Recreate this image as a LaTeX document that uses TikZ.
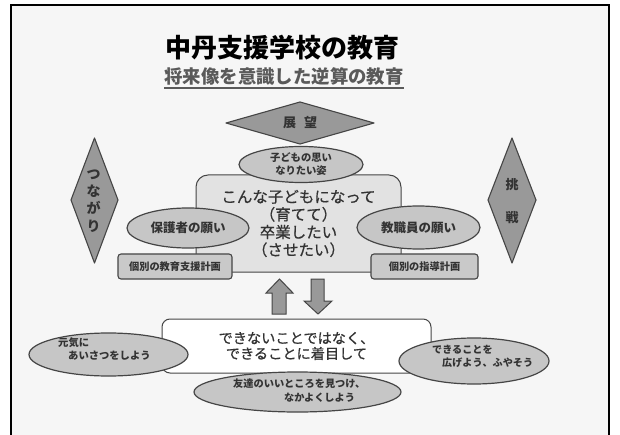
\documentclass[tikz,border=0pt]{standalone}
\usepackage{fontspec}
\setmainfont{Noto Sans CJK JP}
\usetikzlibrary{shapes.geometric,calc}
\definecolor{bg}{HTML}{F6F6F6}
\definecolor{dia}{HTML}{999999}
\definecolor{ell}{HTML}{C6C6C6}
\definecolor{boxc}{HTML}{E2E2E2}
\definecolor{rectc}{HTML}{C9C9C9}
\definecolor{edge}{HTML}{454545}
\definecolor{txt}{HTML}{333333}
\definecolor{subc}{HTML}{5A5A5A}
\newcommand{\fs}[2]{\fontsize{#1}{#2}\selectfont}
\begin{document}
\begin{tikzpicture}[x=1pt,y=-1pt,
  diam/.style={fill=dia,draw=edge,line width=1.1pt,line join=round},
  ell/.style={ellipse,fill=ell,draw=edge,line width=1.2pt,inner sep=0pt,text=txt,align=center},
  planbox/.style={rectangle,rounded corners=3pt,fill=rectc,draw=edge,line width=1.1pt,inner sep=0pt,text=txt,font=\fs{10.2}{12}\bfseries},
  arrowc/.style={fill=dia,draw=edge,line width=1pt,line join=miter},
  lbl/.style={inner sep=0pt,text=txt}]
\useasboundingbox (0,0) rectangle (620,435);
\fill[white] (0,0) rectangle (620,435);
\fill[bg] (11,5) rectangle (609,435);
\draw[line width=2pt] (11,437) -- (11,5) -- (609,5) -- (609,437);

% title
\node[inner sep=0pt,font=\fs{26}{30}\bfseries] (title) at (282,48) {中丹支援学校の教育};
\node[inner sep=0pt,font=\fs{18.4}{22}\bfseries,text=subc] (subtitle) at (284,76) {将来像を意識した逆算の教育};
\draw[subc,line width=1.5pt] ($(subtitle.south west)+(0,3)$) -- ($(subtitle.south east)+(0,3)$);

% top diamond
\draw[diam] (226,123) -- (300,102) -- (374,123) -- (300,144) -- cycle;
\node[lbl,font=\fs{13}{15}\bfseries] (tenbo) at (300,123) {展\hspace{8pt}望};

% side diamonds
\draw[diam] (94.5,138) -- (118,200) -- (94.5,263) -- (71,200) -- cycle;
\node[lbl,align=center,font=\fs{14}{17.3}\bfseries] (tsunagari) at (93.5,201) {つ\\な\\が\\り};
\draw[diam] (512,138) -- (536,200) -- (512,263) -- (488,200) -- cycle;
\node[lbl,align=center,font=\fs{13}{33}\bfseries] (chosen) at (512,201.5) {挑\\戦};

% central box
\node[rectangle,rounded corners=12pt,fill=boxc,draw=edge,line width=1pt,
  minimum width=205pt,minimum height=97pt,inner sep=0pt,text=txt,align=center,
  font=\fs{15.5}{17.7}\addfontfeature{FakeBold=0.6}] (center) at (298.5,223.5)
  {こんな子どもになって\\（育てて）\\卒業したい\\（させたい）};

\node[ell,minimum width=124pt,minimum height=36pt,font=\fs{10.3}{13}\bfseries] (child) at (301,164.5) {子どもの思い\\なりたい姿};
\node[ell,minimum width=122pt,minimum height=40pt,font=\fs{12.5}{14}\bfseries] (parent) at (188,228) {保護者の願い};
\node[ell,minimum width=123pt,minimum height=43pt,font=\fs{12.5}{14}\bfseries] (staff) at (418.5,227.5) {教職員の願い};
\node[planbox,minimum width=114pt,minimum height=25pt] (plan1) at (175,266.5) {個別の教育支援計画};
\node[planbox,minimum width=107pt,minimum height=25pt] (plan2) at (424.5,266.5) {個別の指導計画};

% arrows
\draw[arrowc] (279.5,279) -- (293,293) -- (286,293) -- (286,314) -- (272,314) -- (272,293) -- (266,293) -- cycle;
\draw[arrowc] (311,279) -- (324,279) -- (324,301) -- (332,301) -- (318,314) -- (304,301) -- (311,301) -- cycle;

% bottom box
\node[rectangle,rounded corners=8pt,fill=white,draw=edge,line width=1pt,
  minimum width=269pt,minimum height=54pt,inner sep=0pt,text=txt,align=center,
  font=\fs{14.2}{15.5}\addfontfeature{FakeBold=0.6}] (bottom) at (296.5,346)
  {できないことではなく、\\できることに着目して};

\node[ell,minimum width=159pt,minimum height=43pt] (genki) at (108.5,354.5) {};
\node[lbl,anchor=west,font=\fs{10.3}{12}\bfseries] (genki1) at (58,343) {元気に};
\node[lbl,anchor=west,font=\fs{10.3}{12}\bfseries] (genki2) at (68,356) {あいさつをしよう};

\node[ell,minimum width=150pt,minimum height=46pt] (dekiru) at (474,361) {};
\node[lbl,anchor=west,font=\fs{10.1}{12}\bfseries] (dekiru1) at (432,350) {できることを};
\node[lbl,anchor=west,font=\fs{10.1}{12}\bfseries] (dekiru2) at (442,363) {広げよう、ふやそう};

\node[ell,minimum width=207pt,minimum height=40pt] (friend) at (297.5,392) {};
\node[lbl,anchor=west,font=\fs{10.2}{12}\bfseries] (friend1) at (233,384) {友達のいいところを見つけ、};
\node[lbl,anchor=west,font=\fs{10.2}{12}\bfseries] (friend2) at (284,398) {なかよくしよう};
\end{tikzpicture}
\end{document}
